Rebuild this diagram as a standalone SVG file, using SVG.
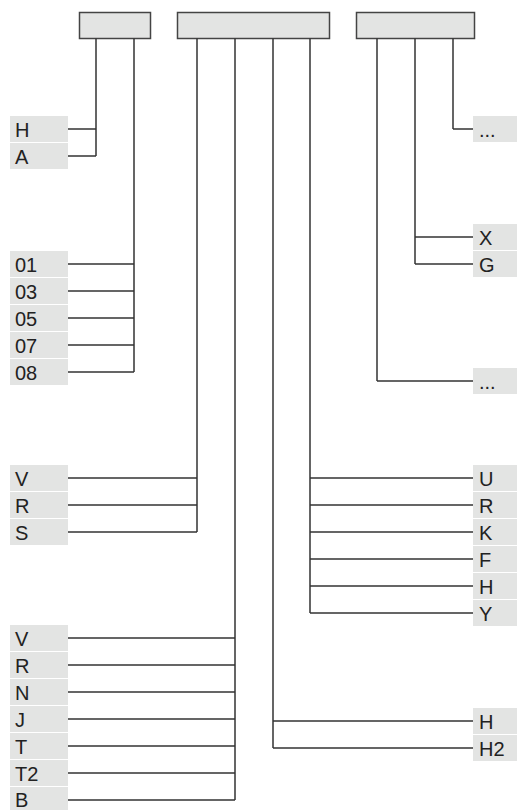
<svg xmlns="http://www.w3.org/2000/svg" width="517" height="810" viewBox="0 0 517 810">
<style>
.box{fill:#e3e4e3;stroke:#444;stroke-width:1.5}
.lbl{fill:#e3e4e3}
.t{font-family:"Liberation Sans",Arial,sans-serif;font-size:20px;fill:#222}
.c{fill:none;stroke:#333;stroke-width:1.5}
</style>
<rect width="517" height="810" fill="#fff"/>
<g id="box1"><rect class="box" x="79.5" y="12.5" width="71" height="26"/></g>
<g id="box2"><rect class="box" x="177.5" y="12.5" width="152" height="26"/></g>
<g id="box3"><rect class="box" x="356.5" y="12.5" width="118" height="26"/></g>
<g id="connectors">
<path class="c" d="M96 38.5V156M96 129H68M96 156H68"/>
<path class="c" d="M134 38.5V372M134 264H68M134 291H68M134 318H68M134 345H68M134 372H68"/>
<path class="c" d="M197 38.5V532M197 478H68M197 505H68M197 532H68"/>
<path class="c" d="M235 38.5V800M235 638H68M235 665H68M235 692H68M235 719H68M235 746H68M235 773H68M235 800H68"/>
<path class="c" d="M273 38.5V748M273 721H473M273 748H473"/>
<path class="c" d="M310 38.5V613M310 478H473M310 505H473M310 532H473M310 559H473M310 586H473M310 613H473"/>
<path class="c" d="M377 38.5V381M377 381H473"/>
<path class="c" d="M415 38.5V264M415 237H473M415 264H473"/>
<path class="c" d="M453 38.5V129M453 129H473"/>
</g>
<g id="l-H"><rect class="lbl" x="10" y="116" width="58" height="26"/><text class="t" x="15" y="137">H</text></g>
<g id="l-A"><rect class="lbl" x="10" y="143" width="58" height="26"/><text class="t" x="15" y="164">A</text></g>
<g id="l-01"><rect class="lbl" x="10" y="251" width="58" height="26"/><text class="t" x="15" y="272">01</text></g>
<g id="l-03"><rect class="lbl" x="10" y="278" width="58" height="26"/><text class="t" x="15" y="299">03</text></g>
<g id="l-05"><rect class="lbl" x="10" y="305" width="58" height="26"/><text class="t" x="15" y="326">05</text></g>
<g id="l-07"><rect class="lbl" x="10" y="332" width="58" height="26"/><text class="t" x="15" y="353">07</text></g>
<g id="l-08"><rect class="lbl" x="10" y="359" width="58" height="26"/><text class="t" x="15" y="380">08</text></g>
<g id="l-V1"><rect class="lbl" x="10" y="465" width="58" height="26"/><text class="t" x="15" y="486">V</text></g>
<g id="l-R1"><rect class="lbl" x="10" y="492" width="58" height="26"/><text class="t" x="15" y="513">R</text></g>
<g id="l-S"><rect class="lbl" x="10" y="519" width="58" height="26"/><text class="t" x="15" y="540">S</text></g>
<g id="l-V2"><rect class="lbl" x="10" y="625" width="58" height="26"/><text class="t" x="15" y="646">V</text></g>
<g id="l-R2"><rect class="lbl" x="10" y="652" width="58" height="26"/><text class="t" x="15" y="673">R</text></g>
<g id="l-N"><rect class="lbl" x="10" y="679" width="58" height="26"/><text class="t" x="15" y="700">N</text></g>
<g id="l-J"><rect class="lbl" x="10" y="706" width="58" height="26"/><text class="t" x="15" y="727">J</text></g>
<g id="l-T"><rect class="lbl" x="10" y="733" width="58" height="26"/><text class="t" x="15" y="754">T</text></g>
<g id="l-T2"><rect class="lbl" x="10" y="760" width="58" height="26"/><text class="t" x="15" y="781">T2</text></g>
<g id="l-B"><rect class="lbl" x="10" y="787" width="58" height="26"/><text class="t" x="15" y="807">B</text></g>
<g id="r-dots1"><rect class="lbl" x="473" y="116" width="58" height="26"/><text class="t" x="479" y="137">...</text></g>
<g id="r-X"><rect class="lbl" x="473" y="224" width="58" height="26"/><text class="t" x="479" y="245">X</text></g>
<g id="r-G"><rect class="lbl" x="473" y="251" width="58" height="26"/><text class="t" x="479" y="272">G</text></g>
<g id="r-dots2"><rect class="lbl" x="473" y="368" width="58" height="26"/><text class="t" x="479" y="389">...</text></g>
<g id="r-U"><rect class="lbl" x="473" y="465" width="58" height="26"/><text class="t" x="479" y="486">U</text></g>
<g id="r-R"><rect class="lbl" x="473" y="492" width="58" height="26"/><text class="t" x="479" y="513">R</text></g>
<g id="r-K"><rect class="lbl" x="473" y="519" width="58" height="26"/><text class="t" x="479" y="540">K</text></g>
<g id="r-F"><rect class="lbl" x="473" y="546" width="58" height="26"/><text class="t" x="479" y="567">F</text></g>
<g id="r-H"><rect class="lbl" x="473" y="573" width="58" height="26"/><text class="t" x="479" y="594">H</text></g>
<g id="r-Y"><rect class="lbl" x="473" y="600" width="58" height="26"/><text class="t" x="479" y="621">Y</text></g>
<g id="r-H1"><rect class="lbl" x="473" y="708" width="58" height="26"/><text class="t" x="479" y="729">H</text></g>
<g id="r-H2"><rect class="lbl" x="473" y="735" width="58" height="26"/><text class="t" x="479" y="756">H2</text></g>
</svg>
